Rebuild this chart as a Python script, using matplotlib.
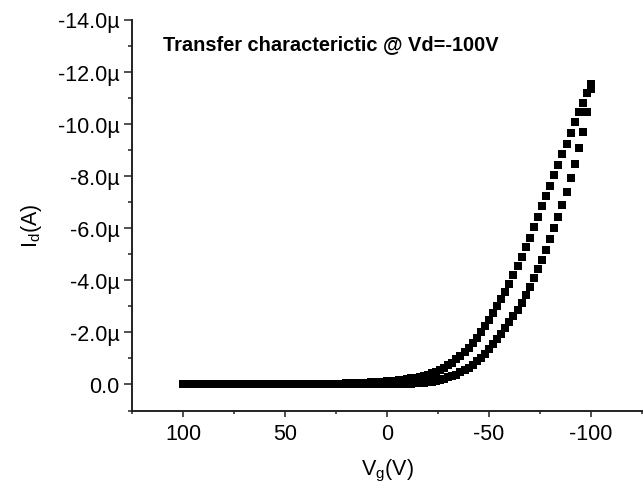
import matplotlib
matplotlib.use("Agg")
import matplotlib.pyplot as plt
from matplotlib.ticker import FuncFormatter, FixedLocator

plt.rcParams['font.family'] = ['Liberation Sans', 'DejaVu Sans']

# Gate voltage grid (V), sweep 100 -> -100 in 2 V steps
vg = list(range(100, -101, -2))

# Drain current (uA) for the curve with higher current (left branch)
id_a = [
    0.00, 0.00, 0.00, 0.00, 0.00, 0.00, 0.00, 0.00, 0.00, 0.00,   # 100..82
    0.00, 0.00, 0.00, 0.00, 0.00, 0.00, 0.00, 0.00, 0.00, 0.00,   # 80..62
    0.00, 0.01, 0.01, 0.01, 0.01, 0.01, 0.01, 0.01, 0.01, 0.01,   # 60..42
    0.01, 0.02, 0.02, 0.02, 0.02, 0.02, 0.03, 0.03, 0.03, 0.03,   # 40..22
    0.04, 0.04, 0.05, 0.05, 0.06, 0.07, 0.08, 0.09, 0.10, 0.11,   # 20..2
    0.12, 0.13, 0.15, 0.16, 0.18, 0.20, 0.23, 0.26, 0.29, 0.33,   # 0..-18
    0.37, 0.42, 0.47, 0.54, 0.63, 0.73, 0.83, 0.96, 1.09, 1.24,   # -20..-38
    1.41, 1.60, 1.80, 2.01, 2.24, 2.47, 2.73, 3.00, 3.27, 3.55,   # -40..-58
    3.87, 4.19, 4.54, 4.90, 5.26, 5.63, 6.03, 6.42, 6.83, 7.24,   # -60..-78
    7.63, 8.04, 8.43, 8.85, 9.24, 9.64, 10.05, 10.45, 10.80, 11.18,  # -80..-98
    11.54,                                                         # -100
]

# Drain current (uA) for the curve with lower current (right branch)
id_b = [
    0.00, 0.00, 0.00, 0.00, 0.00, 0.00, 0.00, 0.00, 0.00, 0.00,   # 100..82
    0.00, 0.00, 0.00, 0.00, 0.00, 0.00, 0.00, 0.00, 0.00, 0.00,   # 80..62
    0.00, 0.00, 0.00, 0.00, 0.00, 0.00, 0.00, 0.00, 0.00, 0.00,   # 60..42
    0.00, 0.00, 0.00, 0.00, 0.00, 0.01, 0.01, 0.01, 0.01, 0.01,   # 40..22
    0.01, 0.01, 0.01, 0.01, 0.01, 0.01, 0.01, 0.01, 0.01, 0.01,   # 20..2
    0.01, 0.02, 0.02, 0.02, 0.02, 0.02, 0.03, 0.04, 0.05, 0.06,   # 0..-18
    0.08, 0.10, 0.13, 0.17, 0.22, 0.27, 0.32, 0.38, 0.46, 0.54,   # -20..-38
    0.64, 0.75, 0.88, 1.02, 1.18, 1.36, 1.54, 1.74, 1.95, 2.17,   # -40..-58
    2.40, 2.62, 2.86, 3.14, 3.42, 3.73, 4.07, 4.42, 4.78, 5.17,   # -60..-78
    5.58, 5.99, 6.43, 6.90, 7.40, 7.91, 8.45, 9.06, 9.70, 10.45,  # -80..-98
    11.35,                                                         # -100
]

title_text = "Transfer characterictic @ Vd=-100V"
x_label = "V$_\\mathregular{g}$(V)"
y_label = "I$_\\mathregular{d}$(A)"

fig = plt.figure(figsize=(6.43, 4.89), dpi=100)
ax = fig.add_axes([132/643, 1-411.5/489, (642/643) - 132/643, (411.5-20.5)/489])

ax.plot(vg, [-v for v in id_a], linestyle='none', marker='s', ms=5.6,
        color='black', mec='black', mew=0)
ax.plot(vg, [-v for v in id_b], linestyle='none', marker='s', ms=5.6,
        color='black', mec='black', mew=0)

ax.set_xlim(125, -125)
ax.set_ylim(1, -14)

ax.xaxis.set_major_locator(FixedLocator([100, 50, 0, -50, -100]))
ax.xaxis.set_minor_locator(FixedLocator([125, 75, 25, -25, -75, -125]))
ax.yaxis.set_major_locator(FixedLocator([0, -2, -4, -6, -8, -10, -12, -14]))
ax.yaxis.set_minor_locator(FixedLocator([1, -1, -3, -5, -7, -9, -11, -13]))

def yfmt(v, pos):
    if abs(v) < 1e-9:
        return "0.0"
    return f"{v:.1f}\u00b5"

def xfmt(v, pos):
    return f"{int(round(v))}"

ax.yaxis.set_major_formatter(FuncFormatter(yfmt))
ax.xaxis.set_major_formatter(FuncFormatter(xfmt))

for s in ['top', 'right']:
    ax.spines[s].set_visible(False)
for s in ['left', 'bottom']:
    ax.spines[s].set_linewidth(1.4)
    ax.spines[s].set_color('#222222')

ax.tick_params(axis='y', which='major', direction='out', length=6, width=1.1,
               labelsize=15.5, color='#222222', pad=3)
ax.tick_params(axis='y', which='minor', direction='out', length=3, width=1.1,
               color='#222222')
ax.tick_params(axis='x', which='major', direction='out', length=4, width=1.1,
               labelsize=15.5, color='#222222', pad=5)
ax.tick_params(axis='x', which='minor', direction='out', length=2.5, width=1.1,
               color='#222222')

ax.set_xlabel(x_label, fontsize=15.5, labelpad=9)
ax.set_ylabel(y_label, fontsize=15.5)
ax.yaxis.set_label_coords(-0.172, 0.475)

ax.text(0.061, 0.938, title_text, transform=ax.transAxes, fontsize=14.4,
        fontweight='bold', ha='left', va='center')

fig.savefig("out.png", dpi=100)
